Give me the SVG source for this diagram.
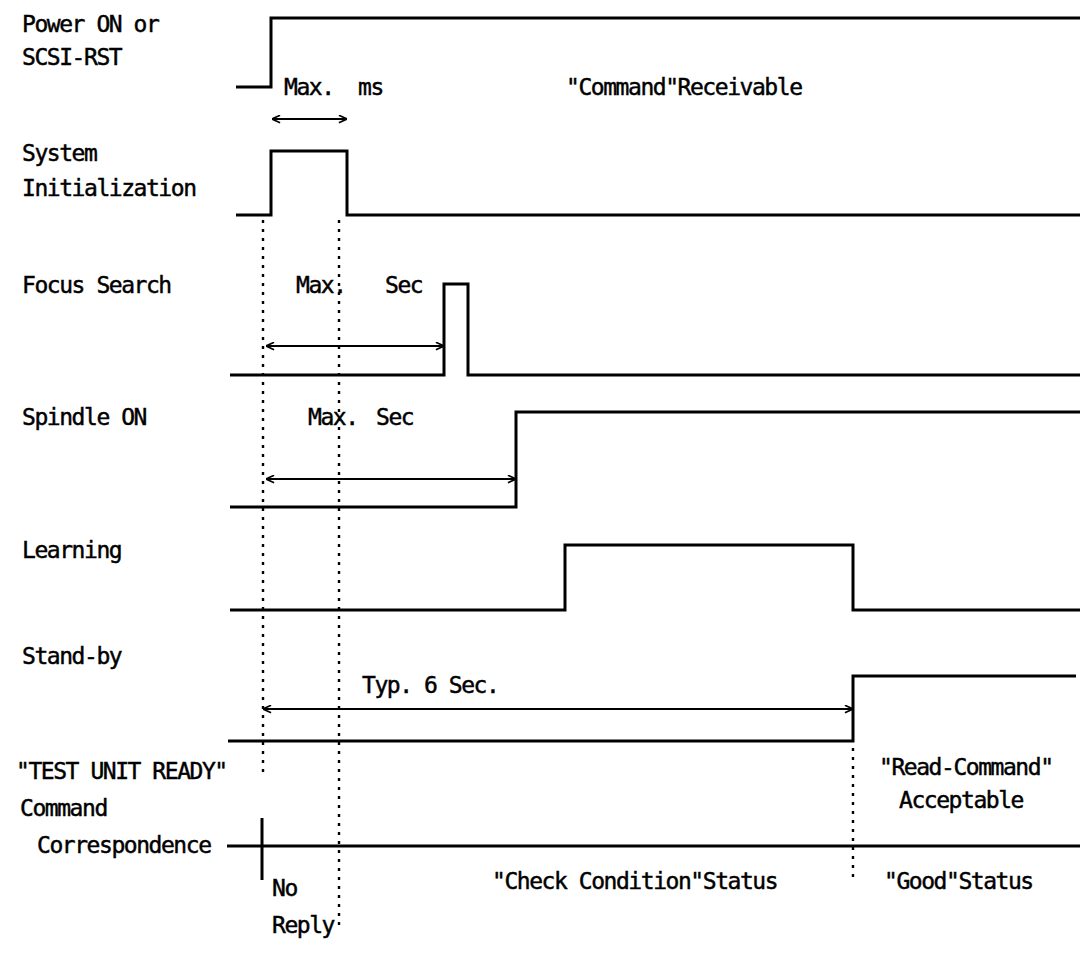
<svg xmlns="http://www.w3.org/2000/svg" width="1083" height="966" viewBox="0 0 1083 966">
<style>
.lbl{font-family:"DejaVu Sans Mono","Liberation Mono",monospace;font-size:23px;letter-spacing:-1.45px;fill:#000;stroke:#000;stroke-width:0.45;}
.sig{fill:none;stroke:#000;stroke-width:3;stroke-linejoin:miter;}
.dim{fill:none;stroke:#000;stroke-width:1.8;marker-start:url(#ah);marker-end:url(#ah);}
.dot{fill:none;stroke:#000;stroke-width:2.4;stroke-dasharray:3 6;}
</style>
<defs>
<marker id="ah" viewBox="0 0 10 10" refX="10" refY="5" markerWidth="9" markerHeight="9" markerUnits="userSpaceOnUse" orient="auto-start-reverse">
<path d="M1,0.8 L10,5 L1,9.2" fill="none" stroke="#000" stroke-width="1.8"/>
</marker>
</defs>
<rect width="1083" height="966" fill="#fff"/>

<g id="power-on">
<text class="lbl" x="22" y="32">Power ON or</text>
<text class="lbl" x="22" y="65">SCSI-RST</text>
<path class="sig" d="M236,87 H271 V18 H1080"/>
<text class="lbl" x="284" y="95">Max.</text>
<text class="lbl" x="358" y="95">ms</text>
<text class="lbl" x="566" y="95">"Command"Receivable</text>
</g>

<g id="system-init">
<text class="lbl" x="22" y="161">System</text>
<text class="lbl" x="22" y="196">Initialization</text>
<path class="sig" d="M236,215 H271 V151 H347 V215 H1080"/>
</g>

<g id="focus-search">
<text class="lbl" x="22" y="293">Focus Search</text>
<path class="sig" d="M230,375 H444 V284 H468 V375 H1080"/>
<text class="lbl" x="296" y="293">Max.</text>
<text class="lbl" x="385" y="293">Sec</text>
</g>

<g id="spindle-on">
<text class="lbl" x="22" y="425">Spindle ON</text>
<path class="sig" d="M230,507 H516 V412 H1080"/>
<text class="lbl" x="308" y="425">Max.</text>
<text class="lbl" x="376" y="425">Sec</text>
</g>

<g id="learning">
<text class="lbl" x="22" y="558">Learning</text>
<path class="sig" d="M230,610 H565 V545 H853 V610 H1080"/>
</g>

<g id="stand-by">
<text class="lbl" x="22" y="664">Stand-by</text>
<path class="sig" d="M228,741 H853 V676 H1076"/>
<text class="lbl" x="362" y="693">Typ. 6 Sec.</text>
</g>

<g id="test-unit-ready">
<text class="lbl" x="16" y="779">"TEST UNIT READY"</text>
<text class="lbl" x="20" y="816">Command</text>
<text class="lbl" x="37" y="853">Correspondence</text>
<path class="sig" d="M227,846 H1080"/>
<path class="sig" d="M262,818 V880" stroke-width="2.5"/>
<text class="lbl" x="272" y="896">No</text>
<text class="lbl" x="272" y="933">Reply</text>
<text class="lbl" x="492" y="889">"Check Condition"Status</text>
<text class="lbl" x="884" y="889">"Good"Status</text>
<text class="lbl" x="879" y="775">"Read-Command"</text>
<text class="lbl" x="899" y="808">Acceptable</text>
</g>

<g id="connectors">
<path class="dim" d="M272,119 H347"/>
<path class="dim" d="M266,346 H444"/>
<path class="dim" d="M266,479 H516"/>
<path class="dim" d="M263,709 H853"/>
<path class="dot" d="M263,220 V776"/>
<path class="dot" d="M339,220 V930"/>
<path class="dot" d="M853,748 V882"/>
</g>
</svg>
